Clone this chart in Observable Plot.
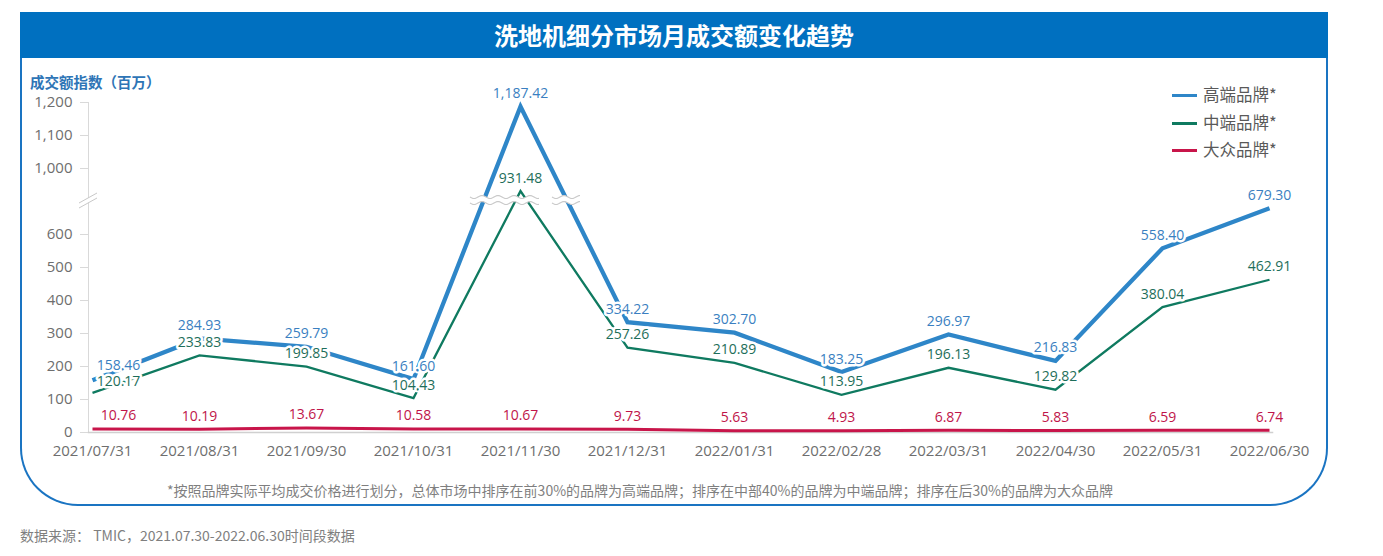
<!DOCTYPE html>
<html><head><meta charset="utf-8">
<script src="https://cdn.jsdelivr.net/npm/d3@7"></script>
<script src="https://cdn.jsdelivr.net/npm/@observablehq/plot@0.6"></script>
<style>
body{margin:0;background:#fff;font-family:"Open Sans","Noto Sans CJK SC",sans-serif;}
#page{position:relative;width:1383px;height:556px;overflow:hidden;}
#frame{position:absolute;left:20px;top:12px;width:1308px;height:494px;box-sizing:border-box;border:2px solid #1a74c2;border-top:none;border-radius:0 0 58px 58px;}
#bar{position:absolute;left:20px;top:12px;width:1308px;height:46px;background:#0070C0;color:#fff;font-weight:bold;font-size:24px;font-family:"Noto Sans CJK SC",sans-serif;text-align:center;line-height:46px;}
#ylab{position:absolute;left:30px;top:71px;font-family:"Noto Sans CJK SC",sans-serif;font-weight:bold;font-size:14.5px;color:#2E75B6;line-height:22px;}
#chart{position:absolute;left:0;top:60px;}
.leg{position:absolute;left:1172px;font-family:"Noto Sans CJK SC",sans-serif;font-size:16.5px;color:#595959;line-height:24px;height:24px;}
.leg span{display:inline-block;width:25px;height:3px;vertical-align:middle;margin-right:6px;position:relative;top:-1px;}
#note{position:absolute;left:0;width:1280px;top:479px;text-align:center;font-family:"Noto Sans CJK SC",sans-serif;font-size:14px;color:#7f7f7f;line-height:22px;}
#src{position:absolute;left:20px;top:524px;font-family:"Noto Sans CJK SC",sans-serif;font-size:14px;color:#7f7f7f;line-height:22px;}
</style>
</head><body>
<div id="page">
  <div id="frame"></div>
  <div id="bar"></div>
  <div id="ylab"></div>
  <div id="chart"></div>
  <div id="legend"></div>
  <div id="note"></div>
  <div id="src"></div>
</div>
<script>
const title = "洗地机细分市场月成交额变化趋势";
const yLabel = "成交额指数（百万）";
const dates = ["2021/07/31","2021/08/31","2021/09/30","2021/10/31","2021/11/30","2021/12/31","2022/01/31","2022/02/28","2022/03/31","2022/04/30","2022/05/31","2022/06/30"];
const seriesNames = ["高端品牌*","中端品牌*","大众品牌*"];
const high = [158.46, 284.93, 259.79, 161.60, 1187.42, 334.22, 302.70, 183.25, 296.97, 216.83, 558.40, 679.30];
const mid  = [120.17, 233.83, 199.85, 104.43, 931.48, 257.26, 210.89, 113.95, 196.13, 129.82, 380.04, 462.91];
const mass = [10.76, 10.19, 13.67, 10.58, 10.67, 9.73, 5.63, 4.93, 6.87, 5.83, 6.59, 6.74];
const yTicks = [0, 100, 200, 300, 400, 500, 600, 1000, 1100, 1200];
const breakLow = 700, breakHigh = 900;
const note = "*按照品牌实际平均成交价格进行划分，总体市场中排序在前30%的品牌为高端品牌；排序在中部40%的品牌为中端品牌；排序在后30%的品牌为大众品牌";
const source = "数据来源： TMIC，2021.07.30-2022.06.30时间段数据";

const lineColors = ["#2E86C8", "#0F7A60", "#C8154A"];
const textColors = ["#3A7FC1", "#1E6E5A", "#C0154A"];
const widths = [4.3, 2.3, 3];
const firstDy = [-15, -11, -13];

// broken axis: values above breakHigh are shifted down by the gap
const gap = breakHigh - breakLow;
const brk = v => v <= breakLow ? v : (v >= breakHigh ? v - gap : breakLow);
const unbrk = t => t <= breakLow ? t : t + gap;

document.getElementById("bar").textContent = title;
document.getElementById("ylab").textContent = yLabel;
document.getElementById("note").textContent = note;
document.getElementById("src").textContent = source;
const leg = document.getElementById("legend");
seriesNames.forEach((s, i) => {
  const d = document.createElement("div");
  d.className = "leg";
  d.style.top = (82 + i * 27.5) + "px";
  d.innerHTML = `<span style="background:${lineColors[i]}"></span>${s}`;
  leg.appendChild(d);
});

const allSeries = [high, mid, mass];
const rows = [];
allSeries.forEach((arr, s) => arr.forEach((v, i) => rows.push({date: dates[i], value: v, series: seriesNames[s], s, i})));

const fmt = d3.format(",.2f");
const font = '"Open Sans","Noto Sans CJK SC",sans-serif';

function breakMarks(index, scales, values, dims) {
  const g = d3.create("svg:g");
  const yb = scales.y(breakLow);
  const x0 = dims.marginLeft;
  // axis break
  g.append("path").attr("d", `M${x0-9},${yb+2} L${x0+9},${yb-8} L${x0+9},${yb-3} L${x0-9},${yb+7} Z`).attr("fill", "#fff");
  g.append("path").attr("d", `M${x0-9},${yb+2} L${x0+9},${yb-8}`).attr("stroke", "#c8c8c8").attr("stroke-width", 1);
  g.append("path").attr("d", `M${x0-9},${yb+7} L${x0+9},${yb-3}`).attr("stroke", "#c8c8c8").attr("stroke-width", 1);
  // line breaks around the peak
  const xp = scales.x(dates[4]);
  const segs = [[xp - 50, xp + 19], [xp + 32, xp + 60]];
  const wave = (a, b, y) => {
    const p = [];
    for (let x = a; x <= b + 0.01; x += 1) p.push([x, y + 1.5 * Math.sin((x - a) / 16 * 2 * Math.PI)]);
    return p;
  };
  const lg = d3.line();
  segs.forEach(([a, b]) => {
    const top = wave(a, b, yb - 4), bot = wave(a, b, yb + 2);
    g.append("path").attr("d", lg(top.concat(bot.slice().reverse())) + "Z").attr("fill", "#fff");
    g.append("path").attr("d", lg(top)).attr("fill", "none").attr("stroke", "#c9c9c9").attr("stroke-width", 1.2);
    g.append("path").attr("d", lg(bot)).attr("fill", "none").attr("stroke", "#c9c9c9").attr("stroke-width", 1.2);
  });
  return g.node();
}

const lineMarks = [0, 1, 2].map(s => Plot.line(rows.filter(d => d.s === s), {
  x: "date", y: d => brk(d.value), stroke: lineColors[s], strokeWidth: widths[s], strokeLinejoin: "miter", strokeMiterlimit: 4, strokeLinecap: "butt"
}));
const labelMarks = [];
[0, 1, 2].forEach(s => {
  const common = {x: "date", y: d => brk(d.value), text: d => fmt(d.value), fill: textColors[s], stroke: "#fff", strokeWidth: 5, fontSize: 14, dy: -13, fontFamily: font};
  labelMarks.push(Plot.text(rows.filter(d => d.s === s && d.i === 0), {...common, dx: 26, dy: firstDy[s]}));
  labelMarks.push(Plot.text(rows.filter(d => d.s === s && d.i > 0), common));
});

const chart = Plot.plot({
  width: 1383,
  height: 420,
  marginLeft: 88,
  marginRight: 111,
  marginTop: 42,
  marginBottom: 48,
  style: {fontFamily: font, background: "transparent", overflow: "visible"},
  x: {type: "point", domain: dates, padding: 0},
  y: {domain: [0, brk(1200)], range: [372, 42]},
  marks: [
    Plot.frame({anchor: "left", stroke: "#d9d9d9"}),
    Plot.frame({anchor: "bottom", stroke: "#d0d0d0", strokeWidth: 1.5}),
    Plot.axisY({ticks: yTicks.map(brk), tickFormat: t => d3.format(",")(unbrk(t)), tickSize: 8, tickPadding: 8, stroke: "#d9d9d9", fill: "#6e6e6e", fontSize: 15, label: null}),
    Plot.axisX({tickSize: 0, tickPadding: 13, fill: "#6e6e6e", fontSize: 15, label: null}),
    ...lineMarks,
    breakMarks,
    ...labelMarks
  ]
});
document.getElementById("chart").appendChild(chart);
</script>
</body></html>
